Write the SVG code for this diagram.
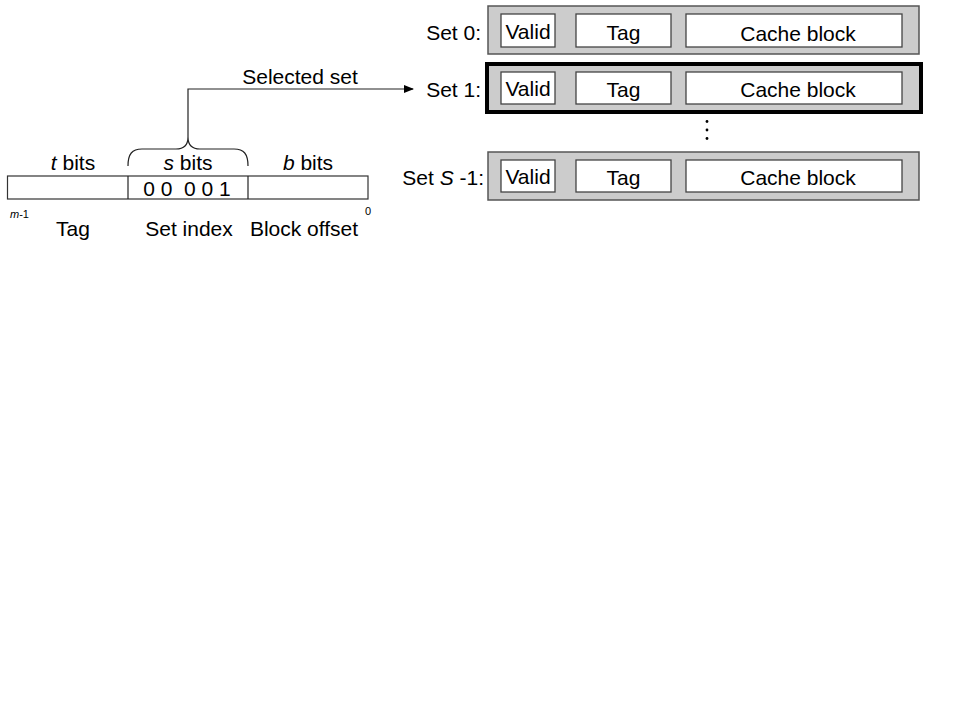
<svg xmlns="http://www.w3.org/2000/svg" width="960" height="720" viewBox="0 0 960 720">
<style>
text{font-family:"Liberation Sans",Arial,Helvetica,sans-serif;fill:#000}
.t{font-size:21px}
.c{text-anchor:middle}
.r{text-anchor:end}
.set{fill:#cccccc;stroke:#555;stroke-width:1.5}
.sel{fill:#cccccc;stroke:#000;stroke-width:4}
.cell{fill:#fff;stroke:#444;stroke-width:1.3}
.bar{fill:#fff;stroke:#333;stroke-width:1.2}
.ln{fill:none;stroke:#222;stroke-width:1.2}
</style>
<defs>
<marker id="ah" markerWidth="10" markerHeight="8" refX="9" refY="4" orient="auto" markerUnits="userSpaceOnUse">
<path d="M0,0 L10,4 L0,8 Z" fill="#000"/>
</marker>
</defs>
<rect width="960" height="720" fill="#fff"/>
<g id="set0">
<rect class="set" x="488" y="6" width="431" height="48"/>
<rect class="cell" x="501" y="14" width="54" height="33"/>
<rect class="cell" x="576" y="14" width="95" height="33"/>
<rect class="cell" x="686" y="14" width="216" height="33"/>
<text class="t r" x="481" y="40">Set 0:</text>
<text class="t c" x="528" y="39">Valid</text>
<text class="t c" x="623.5" y="40">Tag</text>
<text class="t c" x="798" y="41">Cache block</text>
</g>
<g id="set1">
<rect class="sel" x="487" y="64" width="434" height="48"/>
<rect class="cell" x="501" y="72" width="54" height="32"/>
<rect class="cell" x="576" y="72" width="95" height="32"/>
<rect class="cell" x="686" y="72" width="216" height="32"/>
<text class="t r" x="481" y="97">Set 1:</text>
<text class="t c" x="528" y="96">Valid</text>
<text class="t c" x="623.5" y="97">Tag</text>
<text class="t c" x="798" y="97">Cache block</text>
</g>
<g id="dots">
<circle cx="707" cy="121.5" r="1.4" fill="#000"/>
<circle cx="707" cy="130" r="1.4" fill="#000"/>
<circle cx="707" cy="138.5" r="1.4" fill="#000"/>
</g>
<g id="setS">
<rect class="set" x="488" y="152" width="431" height="48"/>
<rect class="cell" x="501" y="160" width="54" height="32"/>
<rect class="cell" x="576" y="160" width="95" height="32"/>
<rect class="cell" x="686" y="160" width="216" height="32"/>
<text class="t r" x="484" y="185">Set <tspan font-style="italic">S</tspan> -1:</text>
<text class="t c" x="528" y="184">Valid</text>
<text class="t c" x="623.5" y="185">Tag</text>
<text class="t c" x="798" y="185">Cache block</text>
</g>
<g id="address">
<rect class="bar" x="7.5" y="176" width="360.5" height="23"/>
<line class="ln" x1="128" y1="176" x2="128" y2="199"/>
<line class="ln" x1="248" y1="176" x2="248" y2="199"/>
<text class="t c" x="187" y="196" xml:space="preserve">0 0  0 0 1</text>
<text class="t c" x="73" y="170"><tspan font-style="italic">t</tspan> bits</text>
<text class="t c" x="188" y="170"><tspan font-style="italic">s</tspan> bits</text>
<text class="t c" x="308" y="170"><tspan font-style="italic">b</tspan> bits</text>
<text x="10" y="218" font-size="11"><tspan font-style="italic">m</tspan>-1</text>
<text x="368" y="215" font-size="11" class="c">0</text>
<text class="t c" x="73" y="236">Tag</text>
<text class="t c" x="189" y="236">Set index</text>
<text class="t c" x="304" y="236">Block offset</text>
</g>
<g id="connectors">
<path class="ln" d="M128,166 C128,154 132,149 142,149 L176,149 C184,149 188,145 188,137 C188,145 192,149 200,149 L234,149 C244,149 248,154 248,166"/>
<path class="ln" d="M188,137 L188,89 L413,89" marker-end="url(#ah)"/>
<text class="t c" x="300" y="84">Selected set</text>
</g>
</svg>
